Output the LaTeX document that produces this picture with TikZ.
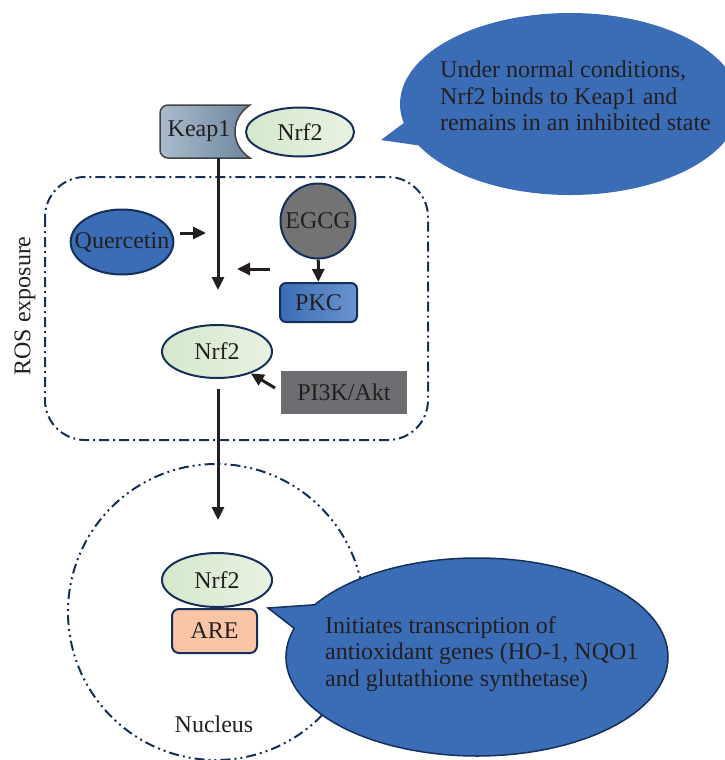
\documentclass[tikz,border=0pt]{standalone}
\usepackage{fontspec}
\setmainfont{Liberation Serif}
\usetikzlibrary{positioning,shapes.geometric,shapes.callouts,arrows.meta}
\definecolor{navy}{HTML}{14305A}
\definecolor{txt}{HTML}{231F20}
\definecolor{bubble}{HTML}{3A6DB5}
\definecolor{pkcR}{HTML}{6B93CF}
\definecolor{nrfL}{HTML}{D4E8CC}
\definecolor{nrfR}{HTML}{E8F2E1}
\definecolor{keapL}{HTML}{AABCCC}
\definecolor{keapR}{HTML}{6D879F}
\definecolor{egcgfill}{HTML}{737373}
\definecolor{pifill}{HTML}{6D6E71}
\definecolor{arefill}{HTML}{F9C5A6}

\begin{document}
\begin{tikzpicture}[x=1pt, y=-1pt, font=\fontsize{24}{26.5}\selectfont, text=txt]
    \tikzset{nrf/.style={draw=navy, line width=2pt, shape=ellipse, inner sep=0pt,
                         left color=nrfL, right color=nrfR, minimum width=109pt, minimum height=52pt},
             arr/.style={-{Triangle[length=13pt, width=12pt]}, line width=3pt, draw=txt},
             pathwaybox/.style={draw=navy, line width=2pt, rounded corners=40pt,
                                dash pattern=on 10pt off 4pt on 2pt off 4pt},
             nucleus/.style={draw=navy, line width=2pt, shape=circle, minimum size=296pt, inner sep=0pt,
                             dash pattern=on 10pt off 4pt on 2pt off 4pt on 2pt off 4pt},
             callout/.style={shape=ellipse callout, fill=bubble, inner sep=0pt, callout pointer arc=15},
             plain/.style={inner sep=0pt, align=left}}
    \useasboundingbox (0,0) rectangle (725,760);
    % membrane side
    \draw[pathwaybox] (45,177) rectangle (428,440);
    \node[rotate=90] (ros) at (25,306) {ROS exposure};
    % Keap1 / Nrf2 complex
    \draw[line width=1.5pt, draw=txt!85, left color=keapL, right color=keapR]
        (250,105) .. controls (230,118) and (230,145) .. (250,158)
        [rounded corners=8pt] -- (160,158) -- (160,105) [sharp corners] -- cycle;
    \node (keap) at (199,131) {Keap1};
    \node[nrf, minimum width=108pt, minimum height=49pt] (nrf2a) at (300,132) {Nrf2};
    \node[callout, minimum width=340pt, minimum height=182pt,
          callout absolute pointer={(381,140)}] (note1) at (570,104) {};
    \node[plain, anchor=west] (note1txt) at (440,96)
        {Under normal conditions,\\Nrf2 binds to Keap1 and\\remains in an inhibited state};
    % activators
    \node[ellipse, draw=navy, line width=2pt, fill=bubble, inner xsep=-11pt, inner ysep=12pt,
          minimum width=101pt, minimum height=65pt] (querc) at (122,242) {Quercetin};
    \node[circle, draw=navy, line width=2pt, fill=egcgfill, inner sep=0pt,
          minimum size=75pt] (egcg) at (318,221) {EGCG};
    \node[draw=navy, line width=2pt, rounded corners=6pt, left color=bubble, right color=pkcR,
          minimum width=77pt, minimum height=39pt, inner sep=0pt] (pkc) at (318.5,302.5) {PKC};
    \node[nrf, minimum width=110pt, minimum height=53pt] (nrf2b) at (217,351.5) {Nrf2};
    \node[fill=pifill, minimum width=126pt, minimum height=43pt, inner sep=0pt] (pi3k) at (344,392.5) {PI3K/Akt};
    \coordinate (c1) at (218,158);
    \coordinate (c2) at (218,290);
    \coordinate (q1) at (180,233);
    \coordinate (q2) at (206,233);
    \coordinate (e1) at (270,269);
    \coordinate (e2) at (237,269);
    \coordinate (p1) at (275,388);
    \coordinate (n1) at (218,389);
    \coordinate (n2) at (218,520);
    \draw[arr] (c1) -- (c2);
    \draw[arr] (q1) -- (q2);
    \draw[arr] (e1) -- (e2);
    \draw[arr] (egcg) -- (pkc);
    \draw[arr] (p1) -- (nrf2b.-33);
    \draw[arr] (n1) -- (n2);
    % nucleus
    \node[nucleus] (nuc) at (216,612) {};
    \node (nuclbl) at (214,724) {Nucleus};
    \node[nrf, minimum width=110pt, minimum height=54pt] (nrf2c) at (217,580) {Nrf2};
    \node[draw=navy, line width=2pt, rounded corners=7pt, fill=arefill,
          minimum width=85pt, minimum height=44pt, inner sep=0pt] (are) at (214.5,631) {ARE};
    \node[callout, draw=navy, line width=1.5pt, minimum width=382pt, minimum height=198pt,
          callout absolute pointer={(268,608)}] (note2) at (477,657) {};
    \node[plain, anchor=west] (note2txt) at (325,654)
        {Initiates transcription of\\antioxidant genes (HO-1, NQO1\\and glutathione synthetase)};
\end{tikzpicture}
\end{document}
